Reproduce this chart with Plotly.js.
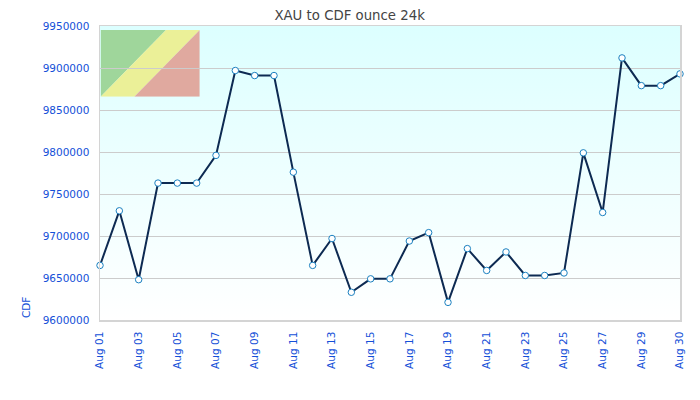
<!DOCTYPE html>
<html><head><meta charset="utf-8">
<script src="https://cdn.plot.ly/plotly-3.0.1.min.js"></script>
<style>html,body{margin:0;padding:0;background:#fff}#c{width:700px;height:400px}</style>
</head><body><div id="c"></div>
<script>
const chartTitle = "XAU to CDF ounce 24k";
const yTitle = "CDF";
const dayIndex = [0,1,2,3,4,5,6,7,8,9,10,11,12,13,14,15,16,17,18,19,20,21,22,23,24,25,26,27,28,29,30];
const rates = [9665000,9730000,9648000,9763000,9763000,9763000,9796000,9897000,9891000,9891000,9776000,9665000,9697000,9633000,9649000,9649000,9694000,9704000,9621000,9685000,9659000,9681000,9653000,9653000,9656000,9799000,9728000,9912000,9879000,9879000,9893000];
const tickPositions = [0,2,4,6,8,10,12,14,16,18,20,22,24,26,28,30];
const tickLabels = ["Aug 01","Aug 03","Aug 05","Aug 07","Aug 09","Aug 11","Aug 13","Aug 15","Aug 17","Aug 19","Aug 21","Aug 23","Aug 25","Aug 27","Aug 29","Aug 30"];
const yTicks = [9600000,9650000,9700000,9750000,9800000,9850000,9900000,9950000];

const blue = "#1450d8";
const font = "DejaVu Sans, Verdana, sans-serif";
const grad = 'data:image/svg+xml;utf8,' + encodeURIComponent('<svg xmlns="http://www.w3.org/2000/svg" width="10" height="100" preserveAspectRatio="none"><defs><linearGradient id="g" x1="0" y1="0" x2="0" y2="1"><stop offset="0" stop-color="#dcffff"/><stop offset="1" stop-color="#ffffff"/></linearGradient></defs><rect width="10" height="100" fill="url(#g)"/></svg>');
const flag = 'data:image/svg+xml;utf8,' + encodeURIComponent('<svg xmlns="http://www.w3.org/2000/svg" width="100" height="67"><polygon points="0,0 66,0 0,67" fill="#9fd69b"/><polygon points="66,0 100,0 34,67 0,67" fill="#ebf098"/><polygon points="100,0 100,67 34,67" fill="#e0a99f"/></svg>');

Plotly.newPlot("c", [{
  x: dayIndex, y: rates, type: "scatter", mode: "lines+markers",
  line: {color: "#0d2a52", width: 2},
  marker: {symbol: "circle", size: 6.5, color: "#ffffff", line: {color: "#1a80c0", width: 1}},
  cliponaxis: false, hoverinfo: "x+y"
}], {
  width: 700, height: 400, showlegend: false,
  paper_bgcolor: "#ffffff", plot_bgcolor: "#ffffff",
  margin: {l: 100, r: 20, t: 26, b: 79.5, pad: 0},
  font: {family: font, size: 10.5, color: blue},
  title: {text: chartTitle, font: {family: font, size: 13.3, color: "#444444"}, x: 0.4995, xref: "container", xanchor: "center", y: 0.9625, yanchor: "middle"},
  xaxis: {range: [0, 30], tickmode: "array", tickvals: tickPositions, ticktext: tickLabels, tickangle: -90,
    showgrid: false, zeroline: false, showline: true, mirror: true, linecolor: "#d4d4d4", linewidth: 1.5,
    ticks: "outside", ticklen: 6, tickcolor: "rgba(0,0,0,0)", tickfont: {family: font, size: 10.5, color: blue}},
  yaxis: {range: [9600000, 9950000], tickmode: "array", tickvals: yTicks, ticktext: yTicks.map(String),
    showgrid: true, gridcolor: "#cccccc", gridwidth: 1, zeroline: false, showline: true, mirror: true, linecolor: "#d4d4d4", linewidth: 1.5,
    ticks: "outside", ticklen: 7, tickcolor: "rgba(0,0,0,0)", tickfont: {family: font, size: 10.5, color: blue}},
  images: [
    {source: grad, xref: "paper", yref: "paper", x: 0, y: 1, sizex: 1, sizey: 1, sizing: "stretch", xanchor: "left", yanchor: "top", layer: "below"},
    {source: flag, xref: "paper", yref: "paper", x: 0.001, y: 0.9865, sizex: 0.171, sizey: 0.2275, sizing: "stretch", xanchor: "left", yanchor: "top", layer: "below"}
  ],
  annotations: [{text: yTitle, xref: "paper", yref: "paper", x: -0.1285, y: 0.042, xanchor: "center", yanchor: "middle", textangle: -90, showarrow: false, font: {family: font, size: 10.5, color: blue}}]
}, {displayModeBar: false, staticPlot: true});
</script></body></html>
